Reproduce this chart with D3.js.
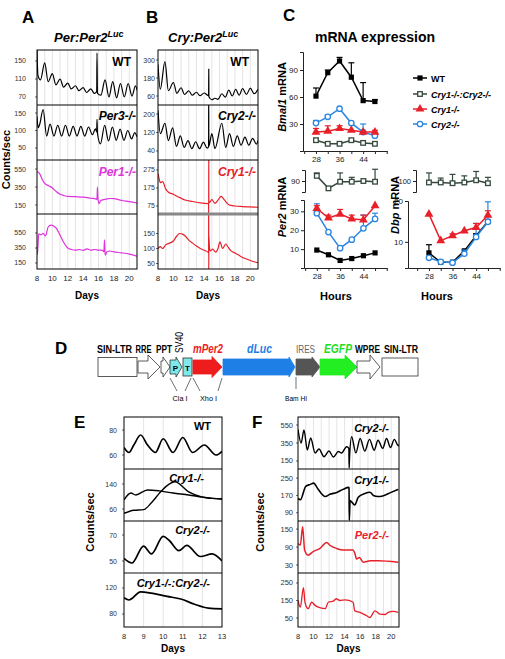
<!DOCTYPE html>
<html><head><meta charset="utf-8">
<script src="https://cdn.jsdelivr.net/npm/d3@7/dist/d3.min.js"></script>
<style>body{margin:0;background:#fff}svg{display:block;font-family:"Liberation Sans",Arial,Helvetica,sans-serif}</style>
</head><body><script>
// ================= DATA =================
const dayTicksLong = [8,10,12,14,16,18,20];
const dayTicksShort = [8,9,10,11,12,13];
const gridLong = [9,10,11,12,13,14,15,16,17,18,19,20];
const gridShort = [9,10,11,12];

// Panel A  (Per:Per2Luc)
const aWT = [[8,175],[8.12,118],[8.45,108],[9.0,146],[9.45,104],[10.0,122],[10.45,97],[11.0,110],[11.45,92],[12.0,101],[12.45,88],[13.0,95],[13.45,84],[14.0,91],[14.45,80],[15.0,88],[15.45,78],[15.76,82],[15.8,168],[15.86,78],[16.3,74],[16.85,108],[17.35,70],[17.85,104],[18.35,68],[18.85,100],[19.35,70],[19.85,100],[20.35,72],[20.8,95],[21,85]];
const aPer3 = [[8,140],[8.15,108],[8.35,118],[8.8,160],[9.25,84],[9.7,118],[10.2,84],[10.7,115],[11.2,84],[11.7,115],[12.2,84],[12.7,112],[13.2,84],[13.7,112],[14.2,84],[14.7,110],[15.2,88],[15.6,105],[15.76,96],[15.8,132],[15.86,92],[16.25,62],[16.8,115],[17.3,70],[17.8,110],[18.3,72],[18.8,104],[19.3,72],[19.8,100],[20.3,76],[20.7,94],[21,82]];
const aPer1 = [[8,520],[8.3,505],[8.7,430],[9.0,390],[9.5,365],[10,340],[10.5,300],[11,270],[11.5,255],[12,245],[13,242],[14,238],[15,225],[15.7,215],[15.8,210],[15.85,350],[15.92,230],[16.05,165],[16.3,200],[17,215],[17.5,222],[18,220],[19,200],[20,188],[21,172]];
const aPer1b = [[8,260],[8.08,300],[8.22,540],[8.5,525],[8.8,545],[9.1,510],[9.45,630],[9.8,655],[10.2,640],[10.5,615],[11,520],[11.5,420],[12,350],[12.5,330],[13,322],[13.5,330],[14,318],[14.5,338],[15,322],[15.5,330],[16,322],[16.5,318],[16.7,300],[16.77,460],[16.86,255],[17.1,300],[17.5,310],[18,298],[19,285],[20,268],[21,240]];

// Panel B  (Cry:Per2Luc)
const bWT = [[8,270],[8.3,105],[8.9,290],[9.35,95],[10.0,150],[10.45,78],[11.0,115],[11.45,70],[12.0,95],[12.45,65],[13.0,85],[13.45,62],[14.0,80],[14.45,65],[14.58,62],[14.6,240],[14.62,55],[15.0,35],[15.4,45],[15.8,38],[16.3,75],[16.75,52],[17.2,100],[17.65,60],[18.1,105],[18.55,65],[19.0,110],[19.5,70],[20.0,112],[20.5,75],[21,105]];
const bCry2 = [[8,215],[8.3,115],[8.9,160],[9.35,85],[9.9,140],[10.4,60],[10.9,105],[11.4,55],[11.9,85],[12.4,50],[12.9,80],[13.4,50],[13.9,78],[14.4,52],[14.58,58],[14.59,300],[14.61,60],[15.0,115],[15.4,50],[16.3,160],[16.8,55],[17.3,115],[17.8,60],[18.3,105],[18.8,65],[19.3,100],[19.8,65],[20.3,95],[20.8,70],[21,85]];
const bCry1 = [[8,255],[8.1,235],[8.3,205],[8.6,210],[9.0,170],[9.4,150],[10,140],[10.5,128],[11,118],[11.5,108],[12.5,100],[13.5,92],[14.5,88],[14.58,88],[14.59,0],[14.6,400],[14.61,92],[14.8,100],[15.0,110],[15.4,90],[15.8,108],[16.2,128],[16.6,110],[17.2,82],[18,75],[19,72],[20,70],[21,68]];
const bCry1b = [[8,100],[8.3,106],[8.6,100],[9.0,112],[9.5,118],[10.0,125],[10.4,140],[10.8,150],[11.2,148],[11.6,140],[12.0,128],[12.5,118],[13.0,108],[13.5,100],[14.0,94],[14.5,88],[14.58,86],[14.59,300],[14.6,0],[14.61,142],[14.7,100],[14.85,92],[15.1,98],[15.5,88],[15.8,100],[16.05,122],[16.4,100],[16.8,115],[17.1,105],[17.5,92],[18.0,85],[18.5,78],[19.0,70],[19.5,65],[20.0,60],[20.5,56],[21,53]];

// Panel C  (mRNA expression)
const hours = [28,32,36,40,44,48];
const bmalWT = [61,87,100,82,56,55],  bmalWTe = [70,90,104,98,76,57];
const bmalDKO = [12,8,8,12,9,8],      bmalDKOe = [12,8,8,12,9,8];
const bmalC1 = [21,22,25,23,21,21],   bmalC1e = [25,28,28,24,22,23];
const bmalC2 = [31,38,47,31,21,17],   bmalC2e = [34,40,48,31,30,19];
const per2DKO = [97,80,89,89,90,89],  per2DKOe = [101,81,101,95,91,106];
const per2WT = [9.5,7,4,5,6.5,8],     per2WTe = [9.5,7,4,5,6.5,8];
const per2C1 = [31.5,26.5,28.5,26,25.5,33], per2C1e = [33,28,31,28,28,33.5];
const per2C2 = [29,19,10.5,15,21,26], per2C2e = [34,19.5,11,15.5,28,29];
const dbpDKO = [98,98,97,98,101,97],  dbpDKOe = [111,104,109,107,113,105];
const dbpWT = [7.3,5.0,5.0,7.8,11.5,15], dbpWTe = [9.3,5,5,8,12,15];
const dbpC2 = [6.1,5.1,4.9,7.1,11.2,14.9], dbpC2e = [6.1,5.1,4.9,8,14.5,19.8];
const dbpC1 = [16.8,10.3,11.5,12.7,13.5,16.5], dbpC1e = [16.8,10.5,12,13,14.5,17.6];
const legendNames = ["WT","Cry1-/-:Cry2-/-","Cry1-/-","Cry2-/-"];

// Panel E
const eWT = [[8,66],[8.25,62],[8.5,68],[8.85,76],[9.2,68],[9.6,62],[10.0,73],[10.5,62],[11.0,74],[11.5,62],[12.1,68],[12.7,60],[13,63]];
const eCry1a = [[8,89],[8.35,111],[8.6,105],[9.2,121],[9.8,118],[10.5,111],[11.3,105],[12,98],[12.5,94],[13,92]];
const eCry1b = [[8,46],[8.5,56],[9.0,58],[9.4,80],[9.8,110],[10.2,135],[10.6,147],[11.3,115],[12,98],[12.5,94],[13,92]];
const eCry2 = [[8,52],[8.4,48.5],[9.0,61.5],[9.4,55.5],[10.0,69],[10.3,66],[10.8,58],[11.2,62],[11.9,53.5],[12.5,55.5],[13,50]];
const eDKO = [[8,105],[8.25,101.5],[8.85,114],[9.4,112],[10.2,107],[10.9,103],[11.6,95],[12.3,89],[13,88]];

// Panel F
const fCry2 = [[8,500],[8.4,350],[8.77,494],[9.2,272],[9.63,406],[10.2,239],[10.7,283],[11.35,198],[11.99,261],[12.55,194],[13.2,255],[13.6,239],[14.26,309],[14.55,290],[14.58,72],[14.62,160],[14.9,420],[15.45,240],[16.0,400],[16.6,260],[17.2,390],[17.8,270],[18.3,380],[18.9,290],[19.4,400],[19.9,300],[20.4,390],[20.9,320],[21,330]];
const fCry1 = [[8,156],[8.3,150],[9.0,212],[9.6,221],[10.0,227],[10.6,198],[11.5,165],[12.1,175],[13,184],[13.8,198],[14.5,207],[14.57,205],[14.6,55],[14.7,146],[15.3,126],[15.76,162],[16.6,179],[17.26,185],[17.7,170],[18.3,165],[19,169],[19.9,183],[20.9,198]];
const fPer2 = [[8,102],[8.3,97],[8.6,158],[8.85,80],[9.3,63],[9.95,75],[10.8,85],[11.7,105],[12.1,96],[13.0,85],[13.8,80],[15.1,80],[15.3,70],[15.55,50],[15.9,55],[16.4,39],[17.3,44],[18.3,44],[20.9,39]];
const fPer2b = [[8,150],[8.3,112],[8.7,223],[8.9,140],[9.3,103],[9.76,140],[10.2,122],[10.8,109],[11.5,103],[11.9,140],[12.55,146],[12.9,160],[13.4,150],[14.05,153],[15.1,140],[15.3,91],[15.98,82],[16.84,63],[17.26,53],[17.9,91],[18.55,72],[19.2,70],[19.6,82],[20.27,88],[20.9,82]];

// Panel D  (construct)
const constructLabels = ["SIN-LTR","RRE","PPT","SV40","mPer2","dLuc","IRES","EGFP","WPRE","SIN-LTR"];
const siteLabels = ["Cla I","Xho I","Bam HI"];

// ================= DRAW =================
const RED = "#e8202a", MAG = "#dd33dd", BLUE = "#2a86e0", DKOC = "#35493d";
const svg = d3.select("body").append("svg").attr("width",505).attr("height",659);
const defs = svg.append("defs");
let clipN = 0;

function txt(g, x, y, s, o = {}) {
  const t = g.append("text").attr("x",x).attr("y",y).text(s)
    .attr("font-size",o.fs||10).attr("text-anchor",o.anchor||"start")
    .attr("fill",o.fill||"#000");
  if (o.bold) t.attr("font-weight","bold");
  if (o.it) t.attr("font-style","italic");
  if (o.rot) t.attr("transform",`rotate(-90,${x},${y})`);
  if (o.len) t.attr("textLength",o.len).attr("lengthAdjust","spacingAndGlyphs");
  return t;
}

function traceStack(o) {
  const g = svg.append("g");
  const [xa, xb] = o.x.range();
  const top = o.panels[0].y0, bot = o.panels[o.panels.length-1].y1;
  g.selectAll(null).data(o.grid).join("line")
    .attr("x1",d=>o.x(d)).attr("x2",d=>o.x(d)).attr("y1",top).attr("y2",bot)
    .attr("stroke","#d2d2d2").attr("stroke-width",0.6);
  o.panels.forEach((p,i)=>{
    const y = d3.scaleLinear().domain(p.domain).range([p.y1,p.y0]);
    const id = "clip"+(clipN++);
    defs.append("clipPath").attr("id",id).append("rect")
      .attr("x",xa).attr("y",p.y0).attr("width",xb-xa).attr("height",p.y1-p.y0);
    const line = d3.line().x(d=>o.x(d[0])).y(d=>y(d[1])).curve(d3.curveMonotoneX);
    p.series.forEach(s=> g.append("path").attr("d",line(s.data)).attr("clip-path",`url(#${id})`)
      .attr("fill","none").attr("stroke",s.color).attr("stroke-width",s.w||1.2).attr("stroke-linejoin","round"));
    g.selectAll(null).data(p.ticks).join("text")
      .attr("x",o.tickX).attr("y",d=>y(d)+2.5).attr("text-anchor","end")
      .attr("font-size",o.tfs||7).attr("fill","#333").text(d=>d);
    g.selectAll(null).data(p.ticks).join("line")
      .attr("x1",xa-2).attr("x2",xa).attr("y1",d=>y(d)).attr("y2",d=>y(d))
      .attr("stroke","#000").attr("stroke-width",0.6);
    if (p.label) txt(g, p.lx, p.ly, p.label, {fs:p.lfs||12, bold:true, it:p.it, fill:p.lc||"#000", anchor:"end"});
    if (i>0) g.append("line").attr("x1",xa).attr("x2",xb).attr("y1",p.y0).attr("y2",p.y0)
      .attr("stroke",p.sep||"#000").attr("stroke-width",p.sepW||1);
  });
  g.append("rect").attr("x",xa).attr("y",top).attr("width",xb-xa).attr("height",bot-top)
    .attr("fill","none").attr("stroke","#000").attr("stroke-width",1);
  g.selectAll(null).data(o.xticks).join("text")
    .attr("x",d=>o.x(d)).attr("y",o.xLabY).attr("text-anchor","middle")
    .attr("font-size",o.xfs||8).attr("fill","#222").text(d=>d);
  txt(g, (xa+xb)/2, o.daysY, "Days", {fs:10, bold:true, anchor:"middle"});
  if (o.countsX) txt(g, o.countsX, (top+bot)/2, "Counts/sec", {fs:11, bold:true, anchor:"middle", rot:true});
}

// ---- Panel letters ----
[["A",22,23],["B",146,23],["C",283,21],["D",55,354],["E",74,428],["F",252,428]].forEach(d=>
  txt(svg, d[1], d[2], d[0], {fs:17, bold:true}));

// ---- Titles A / B ----
function title(x, main) {
  const t = svg.append("text").attr("x",x).attr("y",42)
    .attr("font-weight","bold").attr("font-style","italic");
  t.append("tspan").attr("font-size",13).text(main);
  t.append("tspan").attr("font-size",9).attr("dy",-5).text("Luc");
}
title(54, "Per:Per2");
title(168, "Cry:Per2");

// ---- Panel A ----
const xA = d3.scaleLinear().domain([8,21]).range([37,137]);
traceStack({x:xA, grid:gridLong, xticks:dayTicksLong, xLabY:281, daysY:299, tickX:26, countsX:10,
  panels:[
    {y0:50,y1:105,domain:[52.2,174.4],ticks:[70,110,150],series:[{data:aWT,color:"#000"}],label:"WT",lx:131,ly:66},
    {y0:105,y1:160,domain:[15.7,172.9],ticks:[50,100,150],series:[{data:aPer3,color:"#000"}],label:"Per3-/-",it:true,lx:136,ly:120},
    {y0:160,y1:214,domain:[50,650],ticks:[150,350,550],series:[{data:aPer1,color:MAG}],label:"Per1-/-",it:true,lc:MAG,lx:136,ly:176},
    {y0:214,y1:269,domain:[70,803],ticks:[150,350,550],series:[{data:aPer1b,color:MAG}]}
  ]});

// ---- Panel B ----
const xB = d3.scaleLinear().domain([8,21]).range([158,258]);
traceStack({x:xB, grid:gridLong, xticks:dayTicksLong, xLabY:281, daysY:299, tickX:155,
  panels:[
    {y0:50,y1:105,domain:[0,367],ticks:[60,180,300],series:[{data:bWT,color:"#000"}],label:"WT",lx:249,ly:66},
    {y0:105,y1:160,domain:[1,239],ticks:[40,120,200],series:[{data:bCry2,color:"#000"}],label:"Cry2-/-",it:true,lx:256,ly:120},
    {y0:160,y1:214,domain:[30.5,330.5],ticks:[75,175,275],series:[{data:bCry1,color:RED}],label:"Cry1-/-",it:true,lc:RED,lx:256,ly:176},
    {y0:214,y1:269,domain:[31.7,215],ticks:[50,100,150],series:[{data:bCry1b,color:RED}],sep:"#888",sepW:3}
  ]});

// ---- Panel C ----
txt(svg, 375, 42, "mRNA expression", {fs:14, bold:true, anchor:"middle"});
const markers = {
  sq:(g,x,y,c)=>g.append("rect").attr("x",x-2.6).attr("y",y-2.6).attr("width",5.2).attr("height",5.2).attr("fill",c),
  osq:(g,x,y,c)=>g.append("rect").attr("x",x-2.3).attr("y",y-2.3).attr("width",4.6).attr("height",4.6).attr("fill","#fff").attr("stroke",c).attr("stroke-width",1.3),
  tri:(g,x,y,c)=>g.append("path").attr("d",d3.symbol(d3.symbolTriangle,34)()).attr("transform",`translate(${x},${y})`).attr("fill",c),
  oc:(g,x,y,c)=>g.append("circle").attr("cx",x).attr("cy",y).attr("r",2.7).attr("fill","#fff").attr("stroke",c).attr("stroke-width",1.3)
};
function drawSeries(g, x, y, vals, errs, color, mk) {
  const pts = hours.map((h,i)=>[x(h), y(vals[i]), y(errs[i])]);
  g.append("path").attr("d",d3.line()(pts.map(p=>[p[0],p[1]]))).attr("fill","none").attr("stroke",color).attr("stroke-width",1.5);
  pts.forEach(p=>{
    if (p[1]-p[2] > 1.5) {
      g.append("line").attr("x1",p[0]).attr("x2",p[0]).attr("y1",p[1]).attr("y2",p[2]).attr("stroke",color).attr("stroke-width",1.2);
      g.append("line").attr("x1",p[0]-3).attr("x2",p[0]+3).attr("y1",p[2]).attr("y2",p[2]).attr("stroke",color).attr("stroke-width",1.2);
    }
  });
  pts.forEach(p=>markers[mk](g,p[0],p[1],color));
}
function yAxisSeg(g, x, y, ticks, fs) {
  const ax = d3.axisLeft(y).tickValues(ticks).tickSize(3).tickSizeOuter(3).tickPadding(2);
  const a = g.append("g").attr("transform",`translate(${x},0)`).call(ax);
  a.selectAll("text").attr("font-size",fs||8).attr("fill","#222").attr("font-family",null);
  a.selectAll("path,line").attr("stroke","#222");
}
function xAxis(g, x, yPos) {
  const ax = d3.axisBottom(x).tickValues([24,28,32,36,40,44,48,52].filter(h=>h>=x.domain()[0]))
    .tickFormat(d=>[28,36,44].includes(d)?d:"").tickSize(3).tickSizeOuter(0).tickPadding(2);
  const a = g.append("g").attr("transform",`translate(0,${yPos})`).call(ax);
  a.selectAll("text").attr("font-size",8).attr("fill","#222").attr("font-family",null);
  a.selectAll("path,line").attr("stroke","#222");
}
function rotLabel(g, x, y, italicPart, rest) {
  const t = g.append("text").attr("transform",`translate(${x},${y}) rotate(-90)`).attr("text-anchor","middle")
    .attr("font-size",11).attr("font-weight","bold");
  t.append("tspan").attr("font-style","italic").text(italicPart);
  t.append("tspan").text(rest);
}
const gC = svg.append("g");
// Bmal1
{
  const x = d3.scaleLinear().domain([23.6,52.1]).range([303,387]);
  const y = d3.scaleLinear().domain([0,110]).range([151,52]);
  yAxisSeg(gC, 303, y, [30,60,90]);
  xAxis(gC, x, 151);
  drawSeries(gC, x, y, bmalWT, bmalWTe, "#000", "sq");
  drawSeries(gC, x, y, bmalDKO, bmalDKOe, DKOC, "osq");
  drawSeries(gC, x, y, bmalC2, bmalC2e, BLUE, "oc");
  drawSeries(gC, x, y, bmalC1, bmalC1e, RED, "tri");
  rotLabel(gC, 286, 97, "Bmal1", " mRNA");
}
// Per2
{
  const x = d3.scaleLinear().domain([23.6,52.1]).range([304,387]);
  const yl = d3.scaleLinear().domain([0,36]).range([268,200]);
  const yu = d3.scaleLinear().domain([75,105]).range([192,170]);
  yAxisSeg(gC, 304, yl, [10,20,30]);
  yAxisSeg(gC, 305, yu, [90]);
  xAxis(gC, x, 268);
  drawSeries(gC, x, yu, per2DKO, per2DKOe, DKOC, "osq");
  drawSeries(gC, x, yl, per2WT, per2WTe, "#000", "sq");
  drawSeries(gC, x, yl, per2C2, per2C2e, BLUE, "oc");
  drawSeries(gC, x, yl, per2C1, per2C1e, RED, "tri");
  rotLabel(gC, 286, 207, "Per2", " mRNA");
  txt(gC, 336, 300, "Hours", {fs:11, bold:true, anchor:"middle"});
}
// Dbp
{
  const x = d3.scaleLinear().domain([20.9,52.1]).range([408,500]);
  const yl = d3.scaleLinear().domain([3.6,20]).range([268,201]);
  const yu = d3.scaleLinear().domain([85,115]).range([192,170]);
  yAxisSeg(gC, 408, yl, [10,20]);
  yAxisSeg(gC, 416, yu, [100], 7.5);
  xAxis(gC, x, 268);
  drawSeries(gC, x, yu, dbpDKO, dbpDKOe, DKOC, "osq");
  drawSeries(gC, x, yl, dbpWT, dbpWTe, "#000", "sq");
  drawSeries(gC, x, yl, dbpC2, dbpC2e, BLUE, "oc");
  drawSeries(gC, x, yl, dbpC1, dbpC1e, RED, "tri");
  rotLabel(gC, 399, 205, "Dbp", " mRNA");
  txt(gC, 437, 300, "Hours", {fs:11, bold:true, anchor:"middle"});
}
// legend
{
  const cols = ["#000", DKOC, RED, BLUE], mks = ["sq","osq","tri","oc"], ys = [78,94,109,124];
  legendNames.forEach((n,i)=>{
    gC.append("line").attr("x1",413).attr("x2",427).attr("y1",ys[i]).attr("y2",ys[i]).attr("stroke",cols[i]).attr("stroke-width",1.5);
    markers[mks[i]](gC,420,ys[i],cols[i]);
    txt(gC, 431, ys[i]+3.5, n, {fs:9, bold:true, it:i>0});
  });
}

// ---- Panel D ----
{
  const g = svg.append("g");
  const cy = 367;
  const arrowPts = (x0,x1,xh,sh,hh)=>[[x0,cy-sh/2],[xh,cy-sh/2],[xh,cy-hh/2],[x1,cy],[xh,cy+hh/2],[xh,cy+sh/2],[x0,cy+sh/2]];
  const parts = [
    {t:"box",x0:98,x1:137,h:19,fill:"#fff"},
    {t:"arr",x0:138,x1:160,xh:148,sh:12,hh:24,fill:"#fff"},
    {t:"arr",x0:161,x1:170,xh:163,sh:12,hh:20,fill:"#fff"},
    {t:"arr",x0:170,x1:182,xh:176,sh:14,hh:20,fill:"#7fe8e8"},
    {t:"box",x0:183,x1:192,h:18,fill:"#7fe8e8"},
    {t:"arr",x0:193,x1:222,xh:212,sh:14,hh:21,fill:"#ee1c1c"},
    {t:"arr",x0:223,x1:295,xh:289,sh:16,hh:20,fill:"#1e7fe6"},
    {t:"arr",x0:296,x1:320,xh:312,sh:16,hh:20,fill:"#555"},
    {t:"arr",x0:320,x1:357,xh:345,sh:16,hh:24,fill:"#22ee22"},
    {t:"arr",x0:357,x1:380,xh:370,sh:12,hh:24,fill:"#fff"},
    {t:"box",x0:382,x1:418,h:18,fill:"#fff"}
  ];
  parts.forEach(p=>{
    if (p.t==="box") g.append("rect").attr("x",p.x0).attr("y",cy-p.h/2).attr("width",p.x1-p.x0).attr("height",p.h)
      .attr("fill",p.fill).attr("stroke","#333").attr("stroke-width",0.8);
    else g.append("polygon").attr("points",arrowPts(p.x0,p.x1,p.xh,p.sh,p.hh).join(" "))
      .attr("fill",p.fill).attr("stroke",p.fill==="#fff"||p.fill==="#7fe8e8"?"#333":p.fill).attr("stroke-width",0.8);
  });
  txt(g,175.5,370.5,"P",{fs:8,bold:true,anchor:"middle"});
  txt(g,187.5,370.5,"T",{fs:8,bold:true,anchor:"middle"});
  const L = constructLabels;
  txt(g,97,353,L[0],{fs:10,bold:true,len:35});
  txt(g,135.5,353,L[1],{fs:10,bold:true,len:16});
  txt(g,156,353,L[2],{fs:10,bold:true,len:16});
  txt(g,183,353,L[3],{fs:10,rot:true,len:21});
  txt(g,193,353,L[4],{fs:12,bold:true,it:true,fill:"#ee1c1c",len:30});
  txt(g,247,353,L[5],{fs:12,bold:true,it:true,fill:"#1e7fe6",len:25});
  txt(g,296,353,L[6],{fs:11,fill:"#666",len:19});
  txt(g,324,353,L[7],{fs:12,bold:true,it:true,fill:"#22dd22",len:28});
  txt(g,355,353,L[8],{fs:10,bold:true,len:25});
  txt(g,384,353,L[9],{fs:10,bold:true,len:34});
  [[170,378,177,391],[191,378,185,391],[193,378,200,391],[222,378,218,391],[296,377,296,389]].forEach(l=>
    g.append("line").attr("x1",l[0]).attr("y1",l[1]).attr("x2",l[2]).attr("y2",l[3]).attr("stroke","#333").attr("stroke-width",0.7));
  txt(g,180,401,siteLabels[0],{fs:8,anchor:"middle",len:15});
  txt(g,208.5,401,siteLabels[1],{fs:8,anchor:"middle",len:17});
  txt(g,296,401,siteLabels[2],{fs:8,anchor:"middle",len:22});
}

// ---- Panel E ----
const xE = d3.scaleLinear().domain([8,13]).range([124,222]);
traceStack({x:xE, grid:gridShort, xticks:dayTicksShort, xLabY:639, daysY:652, tickX:117, countsX:94, tfs:7, xfs:7.5,
  panels:[
    {y0:417,y1:469,domain:[48.8,90.4],ticks:[60,80],series:[{data:eWT,color:"#000",w:1.7}],label:"WT",lx:211,ly:430,lfs:11},
    {y0:469,y1:521,domain:[21.6,188],ticks:[60,140],series:[{data:eCry1a,color:"#000",w:1.4},{data:eCry1b,color:"#000",w:1.4}],label:"Cry1-/-",it:true,lx:204,ly:482,lfs:11},
    {y0:521,y1:573,domain:[40.8,80.8],ticks:[50,70],series:[{data:eCry2,color:"#000",w:1.7}],label:"Cry2-/-",it:true,lx:210,ly:534,lfs:11},
    {y0:573,y1:627,domain:[60,143],ticks:[80,120],series:[{data:eDKO,color:"#000",w:1.7}],label:"Cry1-/-:Cry2-/-",it:true,lx:210,ly:587,lfs:11,sep:"#888",sepW:2}
  ]});

// ---- Panel F ----
const xF = d3.scaleLinear().domain([8,21]).range([298,399]);
traceStack({x:xF, grid:gridLong, xticks:dayTicksLong, xLabY:639, daysY:652, tickX:293, countsX:264, tfs:7.5, xfs:7.5,
  panels:[
    {y0:417,y1:469,domain:[61,639],ticks:[150,350,550],series:[{data:fCry2,color:"#000",w:1.4}],label:"Cry2-/-",it:true,lx:389,ly:432,lfs:11},
    {y0:469,y1:521,domain:[52,292],ticks:[90,170,250],series:[{data:fCry1,color:"#000",w:1.6}],label:"Cry1-/-",it:true,lx:389,ly:484,lfs:11},
    {y0:521,y1:573,domain:[3.3,177],ticks:[30,90,150],series:[{data:fPer2,color:RED,w:1.5}],label:"Per2-/-",it:true,lc:RED,lx:389,ly:539,lfs:11},
    {y0:573,y1:627,domain:[-1.4,307],ticks:[50,150,250],series:[{data:fPer2b,color:RED,w:1.3}]}
  ]});
</script></body></html>
